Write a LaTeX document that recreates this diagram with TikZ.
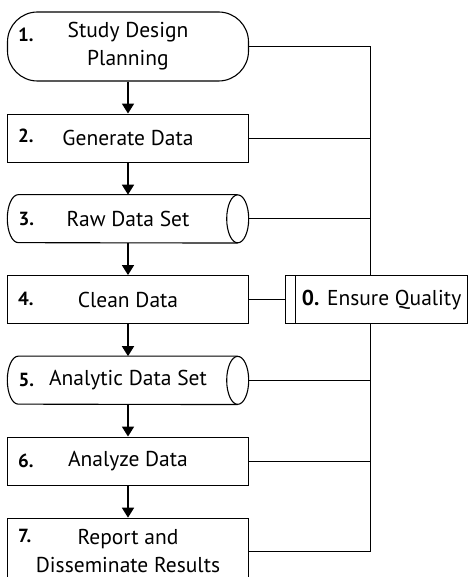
\documentclass[tikz,border=0pt]{standalone}
\usepackage{fontspec}
\setmainfont{PT Sans}
\usetikzlibrary{arrows.meta, positioning}

\begin{document}
\begin{tikzpicture}[
        x=1pt, y=-1pt,
        >={Triangle[width=12pt,length=10pt]},
        node distance=32pt,
        every node/.style={font=\fontsize{21.5}{28}\selectfont},
        box/.style={draw, line width=1.1pt, minimum width=241pt, minimum height=48pt, inner sep=0pt},
        term/.style={box, rounded corners=30pt, minimum height=69pt, align=center},
        store/.style={minimum width=241pt, minimum height=48pt, inner sep=0pt},
        num/.style={font=\fontsize{19}{19}\selectfont\bfseries, inner sep=0pt, anchor=west},
        flow/.style={->, line width=1.8pt},
        link/.style={line width=1.1pt}
    ]
        \useasboundingbox (0,0) rectangle (468,577);
        \clip (0,0) rectangle (468,577);

        % main column
        \node[term] (s1) at (128,46.5) {Study Design\\Planning};
        \node[box, below=of s1] (s2) {Generate Data};
        \node[store, below=of s2] (s3) {Raw Data Set};
        \node[box, below=of s3] (s4) {Clean Data};
        \node[store, below=of s4] (s5) {Analytic Data Set};
        \node[box, below=of s5] (s6) {Analyze Data};
        \node[box, below=of s6, minimum height=66pt, align=center] (s7) {Report and\\Disseminate Results};

        % data sets drawn as lying cylinders
        \foreach \s in {s3, s5} {
            \draw[link] ([xshift=-11pt]\s.north east) -- ([xshift=11pt]\s.north west)
                arc[start angle=90, end angle=270, x radius=11pt, y radius=24pt]
                -- ([xshift=-11pt]\s.south east);
            \draw[link] ([xshift=-11pt]\s.east) ellipse [x radius=11pt, y radius=24pt];
        }

        % step numbers
        \node[num] (n1) at ([xshift=11pt, yshift=12pt]s1.west) {1.};
        \node[num] (n2) at ([xshift=11pt, yshift=2pt]s2.west) {2.};
        \node[num] (n3) at ([xshift=11pt]s3.west) {3.};
        \node[num] (n4) at ([xshift=11pt, yshift=1pt]s4.west) {4.};
        \node[num] (n5) at ([xshift=11pt]s5.west) {5.};
        \node[num] (n6) at ([xshift=11pt]s6.west) {6.};
        \node[num] (n7) at ([xshift=11pt, yshift=15pt]s7.west) {7.};

        % quality box
        \node[box, minimum width=182pt, right=36pt of s4] (eq) {\hspace*{10pt}\textbf{0.} Ensure Quality};
        \draw[link] ([xshift=10pt]eq.north west) -- ([xshift=10pt]eq.south west);

        % arrows
        \foreach \i/\j in {1/2, 2/3, 3/4, 4/5, 5/6, 6/7}
            \draw[flow] (s\i.south) -- (s\j.north);

        % quality bus
        \coordinate[right=121pt of s1.east] (bus);
        \draw[link] (s1.east) -- (bus) -- (bus |- eq.north);
        \draw[link] (bus |- eq.south) -- (bus |- s7.east) -- (s7.east);
        \foreach \i in {2, 3, 5, 6}
            \draw[link] (s\i.east) -- (bus |- s\i.east);
        \draw[link] (s4.east) -- (eq.west);
    \end{tikzpicture}
\end{document}
